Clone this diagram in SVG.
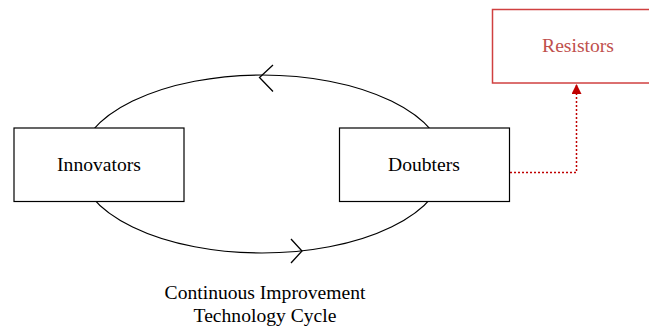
<svg xmlns="http://www.w3.org/2000/svg" width="649" height="330" viewBox="0 0 649 330">
  <style>
    .box { fill: #ffffff; stroke: #000000; stroke-width: 1.2; }
    .alert { fill: #ffffff; stroke: #d04040; stroke-width: 1.5; }
    .label { font-family: "Liberation Serif", "Times New Roman", serif; font-size: 19.6px; fill: #000000; text-anchor: middle; }
    .alert-label { fill: #c0504d; }
    .cycle { fill: none; stroke: #000000; stroke-width: 1.2; }
    .chevron { fill: none; stroke: #000000; stroke-width: 1.3; }
    .link { fill: none; stroke: #c00000; stroke-width: 1.5; stroke-dasharray: 2 2; }
  </style>
  <defs>
    <marker id="tri" viewBox="0 0 10 10" refX="10" refY="5" markerWidth="10" markerHeight="10" markerUnits="userSpaceOnUse" orient="auto">
      <path d="M0,0 L10,5 L0,10 z" fill="#c00000"/>
    </marker>
  </defs>

  <!-- cycle loop and its direction marks -->
  <g id="connectors">
    <ellipse class="cycle" cx="262" cy="164" rx="183" ry="89"/>
    <path class="chevron" d="M273,65 L259.5,77.5 L273,91.5"/>
    <path class="chevron" d="M291,239 L302,251 L291,263"/>
    <path class="link" d="M510,172.5 H576.5 V84" marker-end="url(#tri)"/>
  </g>

  <g id="innovators">
    <rect class="box" x="14" y="128" width="170" height="73.5"/>
    <text class="label" x="99" y="171">Innovators</text>
  </g>

  <g id="doubters">
    <rect class="box" x="339.5" y="128" width="170" height="73.5"/>
    <text class="label" x="424" y="171">Doubters</text>
  </g>

  <g id="resistors">
    <rect class="alert" x="492.5" y="9.5" width="175" height="73.5"/>
    <text class="label alert-label" x="578" y="52">Resistors</text>
  </g>

  <g id="caption">
    <text class="label" x="265" y="299">Continuous Improvement</text>
    <text class="label" x="265" y="322">Technology Cycle</text>
  </g>
</svg>
